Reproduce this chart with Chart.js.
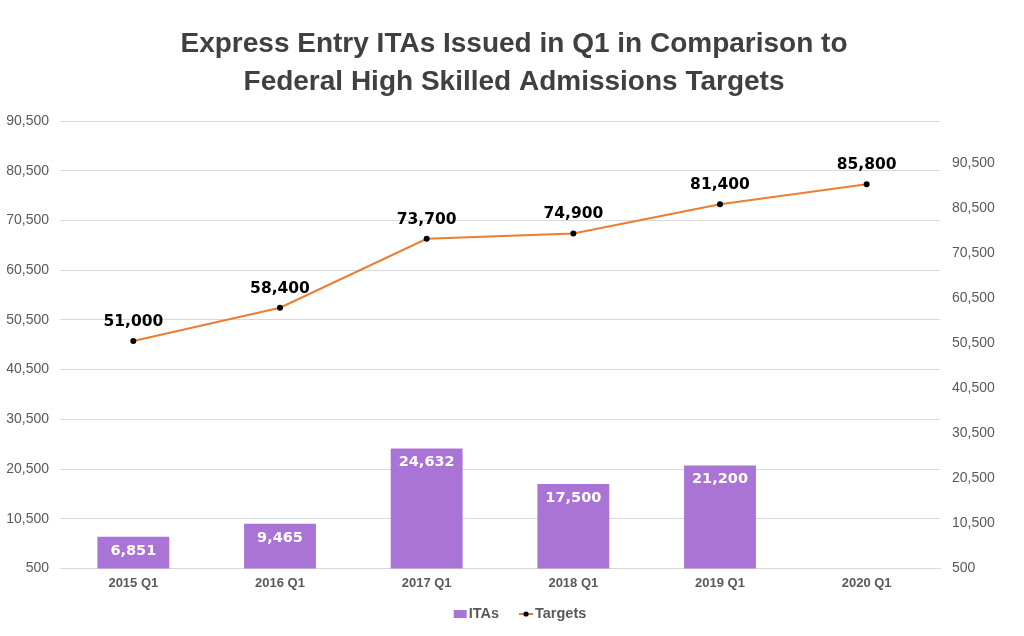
<!DOCTYPE html>
<html>
<head>
<meta charset="utf-8">
<script src="https://cdn.jsdelivr.net/npm/chart.js@4"></script>
<style>
html,body{margin:0;padding:0;background:#fff;}
#wrap{width:1024px;height:636px;}
</style>
</head>
<body>
<div id="wrap"><canvas id="c" width="1024" height="636"></canvas></div>
<script>
const categories = ['2015 Q1','2016 Q1','2017 Q1','2018 Q1','2019 Q1','2020 Q1'];
const itas = [6851, 9465, 24632, 17500, 21200, null];
const targets = [51000, 58400, 73700, 74900, 81400, 85800];
const axisTicks = [500, 10500, 20500, 30500, 40500, 50500, 60500, 70500, 80500, 90500];
const titleLines = ['Express Entry ITAs Issued in Q1 in Comparison to', 'Federal High Skilled Admissions Targets'];
const legendNames = ['ITAs', 'Targets'];

const BAR_COLOR = '#A974D6';
const LINE_COLOR = '#ED7D31';
const TEXT_GRAY = '#595959';
const FONT = '"Liberation Sans", Arial, sans-serif';

const fmt = v => v.toLocaleString('en-US');

const labelPlugin = {
  id: 'valueLabels',
  afterDatasetsDraw(chart){
    const ctx = chart.ctx;
    ctx.save();
    ctx.textAlign = 'center';
    ctx.textBaseline = 'middle';
    const m0 = chart.getDatasetMeta(0);
    ctx.font = 'bold 14.5px "DejaVu Sans"';
    ctx.fillStyle = '#ffffff';
    m0.data.forEach((el,i)=>{
      if (itas[i] == null) return;
      ctx.fillText(fmt(itas[i]), el.x, el.y + 14);
    });
    const m1 = chart.getDatasetMeta(1);
    ctx.font = 'bold 15.5px "DejaVu Sans"';
    ctx.fillStyle = '#000000';
    m1.data.forEach((el,i)=>{
      ctx.fillText(fmt(targets[i]), el.x, el.y - 19);
    });
    ctx.restore();
  }
};

const legendPlugin = {
  id: 'customLegend',
  afterDraw(chart){
    const ctx = chart.ctx;
    ctx.save();
    const y = 614;
    ctx.font = 'bold 14.5px ' + FONT;
    ctx.textBaseline = 'middle';
    ctx.textAlign = 'left';
    const w0 = ctx.measureText(legendNames[0]).width;
    const w1 = ctx.measureText(legendNames[1]).width;
    const total = 13 + 2 + w0 + 20 + 16 + 2 + w1;
    let x = 521 - total / 2;
    ctx.fillStyle = BAR_COLOR;
    ctx.fillRect(x, y - 4, 13, 8);
    x += 15;
    ctx.fillStyle = TEXT_GRAY;
    ctx.fillText(legendNames[0], x, y);
    x += w0 + 20;
    ctx.strokeStyle = LINE_COLOR;
    ctx.lineWidth = 2;
    ctx.beginPath(); ctx.moveTo(x, y); ctx.lineTo(x + 14, y); ctx.stroke();
    ctx.fillStyle = '#000';
    ctx.beginPath(); ctx.arc(x + 7, y, 2.6, 0, Math.PI * 2); ctx.fill();
    x += 16;
    ctx.fillStyle = TEXT_GRAY;
    ctx.fillText(legendNames[1], x, y);
    ctx.restore();
  }
};

new Chart(document.getElementById('c'), {
  data: {
    labels: categories,
    datasets: [
      {
        type: 'bar',
        label: legendNames[0],
        data: itas,
        backgroundColor: BAR_COLOR,
        yAxisID: 'y',
        barPercentage: 0.49,
        categoryPercentage: 1.0,
        order: 2
      },
      {
        type: 'line',
        label: legendNames[1],
        data: targets,
        borderColor: LINE_COLOR,
        borderWidth: 2,
        pointRadius: 3,
        pointBackgroundColor: '#000',
        pointBorderColor: '#000',
        pointBorderWidth: 0,
        tension: 0,
        yAxisID: 'y1',
        order: 1
      }
    ]
  },
  options: {
    responsive: false,
    animation: false,
    devicePixelRatio: 1,
    layout: { padding: { left: 4, right: 0, top: 10, bottom: 38 } },
    plugins: {
      title: {
        display: true,
        text: titleLines,
        color: '#404040',
        font: { family: FONT, size: 28, weight: 'bold', lineHeight: 1.36 },
        padding: { top: 15, bottom: 20 }
      },
      legend: { display: false },
      tooltip: { enabled: false }
    },
    scales: {
      x: {
        grid: { display: false, drawTicks: false },
        border: { display: true, color: '#D9D9D9', width: 1 },
        ticks: {
          color: TEXT_GRAY,
          padding: 7,
          font: { family: FONT, size: 13, weight: 'bold' }
        }
      },
      y: {
        position: 'left',
        min: 500,
        max: 90500,
        grid: { color: '#D9D9D9', drawTicks: false },
        border: { display: false },
        afterBuildTicks(axis){ axis.ticks = axisTicks.map(v => ({ value: v })); },
        afterFit(axis){ axis.width = 56; },
        ticks: {
          color: TEXT_GRAY,
          padding: 11,
          font: { family: FONT, size: 14 },
          callback: v => fmt(v)
        }
      },
      y1: {
        position: 'right',
        min: 500,
        max: 99833,
        grid: { display: false, drawTicks: false },
        border: { display: false },
        afterBuildTicks(axis){ axis.ticks = axisTicks.map(v => ({ value: v })); },
        afterFit(axis){ axis.width = 84; },
        ticks: {
          color: TEXT_GRAY,
          padding: 12,
          font: { family: FONT, size: 14 },
          callback: v => fmt(v)
        }
      }
    }
  },
  plugins: [labelPlugin, legendPlugin]
});
</script>
</body>
</html>
